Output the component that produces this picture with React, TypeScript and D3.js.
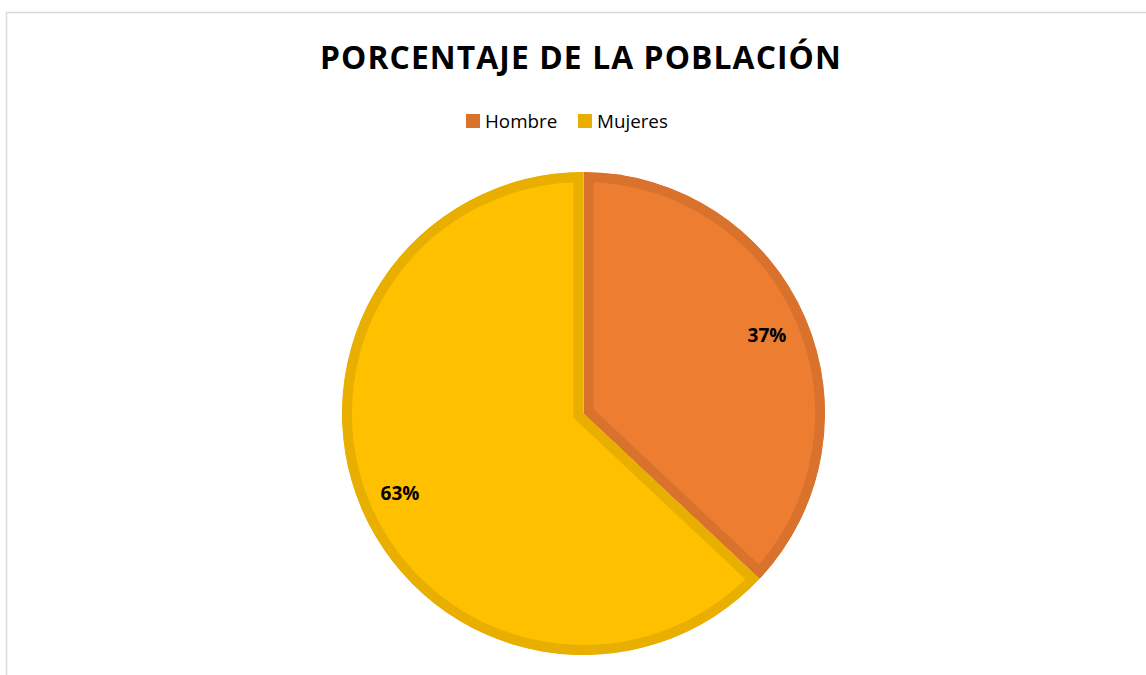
import React from "react";
import * as d3 from "d3";

const categories = ["Hombre", "Mujeres"];
const values = [37, 63];
const fills = ["#ED7D31", "#FFC000"];
const borders = ["#D8722D", "#E8AE00"];

const W = 1146;
const H = 675;
const cx = 583.5;
const cy = 413.5;
const R = 241.5;

export default function App() {
  const pie = d3.pie<number>().sort(null).value((d) => d);
  const arcs = pie(values);
  const arc = d3.arc<d3.PieArcDatum<number>>().innerRadius(0).outerRadius(R);
  const labelArc = d3.arc<d3.PieArcDatum<number>>().innerRadius(200).outerRadius(200);
  const total = d3.sum(values);

  const legendItems = [
    { x: 466, tx: 485 },
    { x: 578, tx: 597 },
  ];

  return (
    <svg width={W} height={H} style={{ position: "absolute", left: 0, top: 0, background: "#fff" }}>
      <rect x={6.5} y={12.5} width={W + 10} height={H + 10} fill="none" stroke="#D9D9D9" strokeWidth={1.5} />
      <text x={581} y={69} textAnchor="middle" fontFamily="'Open Sans', sans-serif" fontWeight="bold" fontSize={31.8} fill="#000" letterSpacing={1.1}>
        PORCENTAJE DE LA POBLACIÓN
      </text>
      {categories.map((c, i) => (
        <g key={c}>
          <rect x={legendItems[i].x} y={114} width={14} height={14} fill={borders[i]} />
          <text x={legendItems[i].tx} y={128} fontFamily="'Open Sans', sans-serif" fontSize={18.8} fill="#000">
            {c}
          </text>
        </g>
      ))}
      <g transform={`translate(${cx},${cy})`}>
        <defs>
          {arcs.map((a, i) => (
            <clipPath id={`clip${i}`} key={i}>
              <path d={arc(a) || ""} />
            </clipPath>
          ))}
        </defs>
        {arcs.map((a, i) => (
          <path
            key={i}
            d={arc(a) || ""}
            fill={fills[i]}
            stroke={borders[i]}
            strokeWidth={20}
            strokeLinejoin="miter"
            clipPath={`url(#clip${i})`}
          />
        ))}
        {arcs.map((a, i) => {
          const [lx, ly] = labelArc.centroid(a);
          return (
            <text
              key={i}
              x={lx}
              y={ly + 7.5}
              textAnchor="middle"
              fontFamily="'Open Sans', sans-serif"
              fontWeight="bold"
              fontSize={19}
              fill="#000"
            >
              {`${Math.round((values[i] / total) * 100)}%`}
            </text>
          );
        })}
      </g>
    </svg>
  );
}
